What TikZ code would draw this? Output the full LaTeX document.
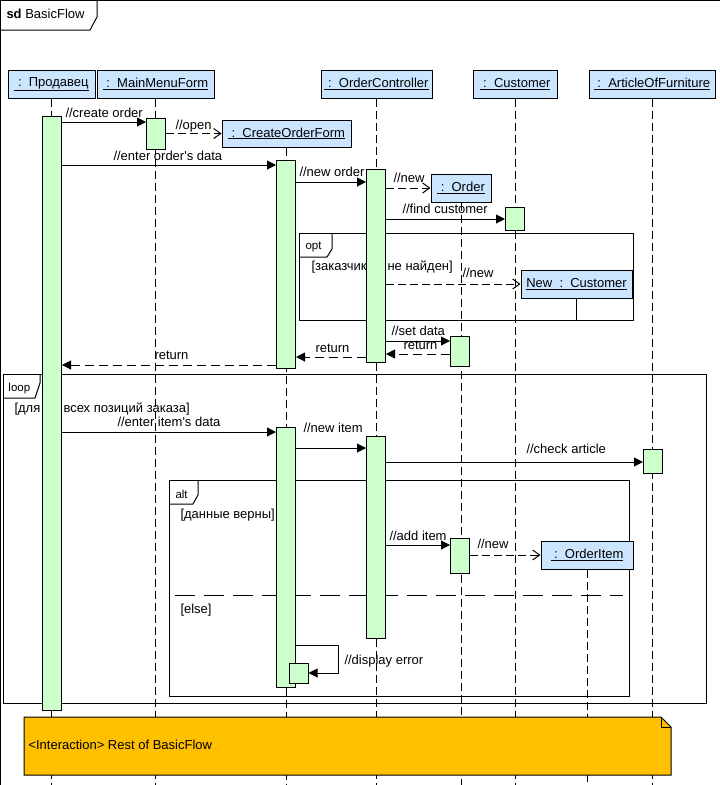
\documentclass[tikz,border=0pt]{standalone}
\usepackage{fontspec}
\setmainfont{Liberation Sans}
\usetikzlibrary{arrows.meta}
\definecolor{headblue}{RGB}{204,229,255}
\definecolor{actgreen}{RGB}{204,255,204}
\definecolor{noteorange}{RGB}{255,192,0}
\begin{document}
\begin{tikzpicture}[x=1pt,y=-1pt,line width=1pt,
  every node/.style={font=\fontsize{13}{15}\selectfont,inner sep=0pt},
  head/.style={draw,fill=headblue,minimum height=28pt},
  bar/.style={draw,fill=actgreen,minimum width=19pt},
  life/.style={dash pattern=on 8pt off 4pt},
  call/.style={-{Triangle[length=9pt,width=9pt]}},
  create/.style={dash pattern=on 8pt off 4pt,-{Straight Barb[length=7pt,width=10pt]}},
  ret/.style={dash pattern=on 9pt off 5pt,-{Triangle[length=9pt,width=9pt]}},
  lbl/.style={anchor=base west},
  frm/.style={draw,anchor=north west},
  small/.style={font=\fontsize{11.5}{13}\selectfont},
]
\useasboundingbox (0,0) rectangle (720,785);
\fill[white] (0,0) rectangle (720,785);
% outer frame
\draw (0.5,785) -- (0.5,0.5) -- (720,0.5);
\draw (0.5,30) -- (90,30) -- (97,17) -- (97,0.5);
\node[lbl] (title) at (6,18) {\textbf{sd} BasicFlow};

% combined fragments
\node[frm,minimum width=334pt,minimum height=87pt] (opt) at (299,233) {};
\draw (opt.north west |- 0,257) -- (327,257) -- (332,249) -- (332,233);
\node[lbl,small] (optl) at (305,249) {opt};
\node[lbl] (g1a) at (311,270) {[заказчик};
\node[lbl] (g1b) at (387,270) {не найден]};

\node[frm,minimum width=703pt,minimum height=329pt] (loop) at (3,374) {};
\draw (loop.north west |- 0,398) -- (35,398) -- (40,383) -- (40,374);
\node[lbl,small] (loopl) at (8,391) {loop};
\node[lbl] (g2a) at (14,412) {[для};
\node[lbl] (g2b) at (63,412) {всех позиций заказа]};

\node[frm,minimum width=460pt,minimum height=216pt] (alt) at (169,480) {};
\draw (alt.north west |- 0,504) -- (193,504) -- (198,495) -- (198,480);
\node[lbl,small] (altl) at (175,498) {alt};
\node[lbl] (g3a) at (180,518) {[данные верны]};
\draw[dash pattern=on 20pt off 9pt] (175,595) -- (623,595);
\node[lbl] (g3b) at (180,613) {[else]};

% lifeline heads
\node[head,minimum width=87pt] (h1) at (51.5,84) {\underline{\ :\ \ Продавец}};
\node[head,minimum width=117pt] (h2) at (155.5,84) {\underline{\ :\ \ MainMenuForm}};
\node[head,minimum width=111pt] (h3) at (376.5,84) {\underline{\ :\ \ OrderController}};
\node[head,minimum width=84pt] (h4) at (515,84) {\underline{\ :\ \ Customer}};
\node[head,minimum width=126pt] (h5) at (652,84) {\underline{\ :\ \ ArticleOfFurniture}};
\node[head,minimum width=129pt,minimum height=27pt] (h6) at (286.5,133.5) {\underline{\ :\ \ CreateOrderForm}};
\node[head,minimum width=60pt] (h7) at (461,188) {\underline{\ :\ \ Order}};
\node[head,minimum width=111pt] (h8) at (576.5,284) {\underline{New\ \ :\ \ Customer}};
\node[head,minimum width=92pt] (h9) at (587,555) {\underline{\ :\ \ OrderItem}};

% lifelines
\draw[life] (h1.south) -- (h1.south |- 0,785);
\draw[life] (h2.south) -- (h2.south |- 0,785);
\draw[life] (h3.south) -- (h3.south |- 0,785);
\draw[life] (h4.south) -- (h4.south |- 0,785);
\draw[life] (h5.south) -- (h5.south |- 0,785);
\draw[life] (h6.south) -- (h6.south |- 0,785);
\draw[life] (h7.south) -- (h7.south |- 0,785);
\draw (h8.south) -- (opt.south -| h8.south);
\draw[life] (h9.south) -- (h9.south |- 0,785);

% activation bars
\node[bar,minimum height=594pt] (bP) at (52,413) {};
\node[bar,minimum height=31pt] (bM) at (156,133.5) {};
\node[bar,minimum height=208pt] (bC1) at (286,264) {};
\node[bar,minimum height=260pt] (bC2) at (286,557) {};
\node[bar,minimum height=193pt] (bO1) at (376,265.5) {};
\node[bar,minimum height=202pt] (bO2) at (376,537) {};
\node[bar,minimum height=23pt] (bCu) at (515,218.5) {};
\node[bar,minimum height=30pt] (bOr1) at (460,351) {};
\node[bar,minimum height=24pt] (bA) at (653,461) {};
\node[bar,minimum height=35pt] (bOr2) at (460,555.5) {};
\node[bar,minimum height=20pt] (bC3) at (298.5,673) {};

% messages
\draw[call] (bP.east |- 0,122) -- (bM.west |- 0,122);
\node[lbl] (m1) at (65,117) {//create order};
\draw[create] (bM.east |- 0,133.5) -- (h6.west);
\node[lbl] (m2) at (175,129) {//open};
\draw[call] (bP.east |- 0,165) -- (bC1.west |- 0,165);
\node[lbl] (m3) at (113,160) {//enter order\textquotesingle s data};
\draw[call] (bC1.east |- 0,182) -- (bO1.west |- 0,182);
\node[lbl] (m4) at (299,176) {//new order};
\draw[create] (bO1.east |- 0,188) -- (h7.west);
\node[lbl] (m5) at (393,182) {//new};
\draw[call] (bO1.east |- 0,219) -- (bCu.west |- 0,219);
\node[lbl] (m6) at (402,213) {//find customer};
\draw[create] (bO1.east |- 0,284) -- (h8.west);
\node[lbl] (m7) at (462,277) {//new};
\draw[call] (bO1.east |- 0,341) -- (bOr1.west |- 0,341);
\node[lbl] (m8) at (391,335) {//set data};
\draw[ret] (bOr1.west |- 0,354) -- (bO1.east |- 0,354);
\node[lbl] (m9) at (403,349) {return};
\draw[ret] (bO1.west |- 0,357) -- (bC1.east |- 0,357);
\node[lbl] (m10) at (315,352) {return};
\draw[ret] (bC1.west |- 0,365) -- (bP.east |- 0,365);
\node[lbl] (m11) at (154,359) {return};
\draw[call] (bP.east |- 0,432) -- (bC2.west |- 0,432);
\node[lbl] (m12) at (117,426) {//enter item\textquotesingle s data};
\draw[call] (bC2.east |- 0,448) -- (bO2.west |- 0,448);
\node[lbl] (m13) at (303,432) {//new item};
\draw[call] (bO2.east |- 0,462) -- (bA.west |- 0,462);
\node[lbl] (m14) at (526,453) {//check article};
\draw[call] (bO2.east |- 0,545) -- (bOr2.west |- 0,545);
\node[lbl] (m15) at (389,540) {//add item};
\draw[create] (bOr2.east |- 0,555) -- (h9.west);
\node[lbl] (m16) at (477,548) {//new};
\coordinate (selfc) at (338,673);
\draw[call] (bC2.east |- 0,645) -| (selfc) -- (bC3.east |- selfc);
\node[lbl] (m17) at (344,664) {//display error};

% note
\fill[noteorange] (24,717) -- (661,717) -- (671,727) -- (671,775) -- (24,775) -- cycle;
\draw (24,717) -- (661,717) -- (671,727) -- (671,775) -- (24,775) -- cycle;
\draw (661,717) -- (661,727) -- (671,727);
\node[anchor=west] (note) at (28,745) {<Interaction> Rest of BasicFlow};
\end{tikzpicture}
\end{document}
